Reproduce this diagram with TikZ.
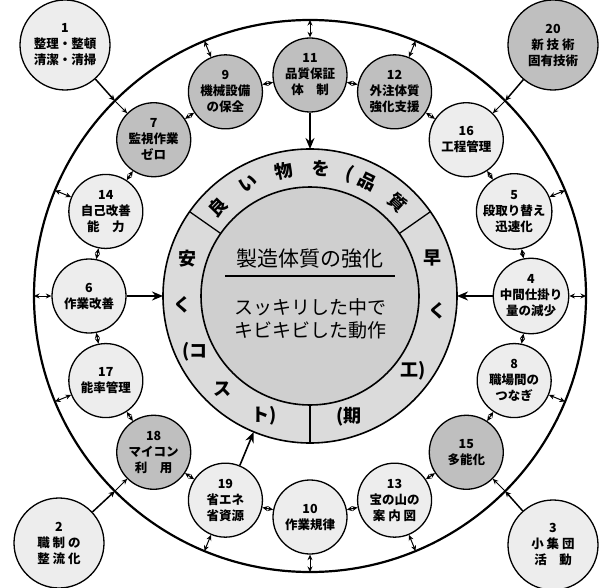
\documentclass[tikz,border=0pt]{standalone}
\usepackage{fontspec}
\newfontfamily\jp{Noto Sans CJK JP}
\usetikzlibrary{arrows.meta,calc}
\begin{document}
\begin{tikzpicture}[x=1pt,y=1pt,
 nd/.style={circle,draw,line width=1.3pt,minimum size=74pt,inner sep=0pt,align=center,font=\jp\bfseries\fontsize{12.5}{16}\selectfont},
 dk/.style={nd,fill=gray!50},
 lt/.style={nd,fill=gray!14},
 ond/.style={minimum size=90pt},
 sa/.style={line width=1pt,{Stealth[length=5.5pt,width=5pt]}-{Stealth[length=5.5pt,width=5pt]}},
 feed/.style={line width=1.5pt,-{Stealth[length=6pt,width=5.5pt]}},
 ba/.style={line width=1.6pt,-{Stealth[length=11pt,width=9pt]}},
 rt/.style={font=\jp\bfseries\fontsize{18}{18}\selectfont,inner sep=0pt},
]
\useasboundingbox (0,0) rectangle (599,-588);
\coordinate (C) at (310,-296);
% outer circle
\draw[line width=2.2pt] (C) circle[radius=276pt];
% ring and centre
\fill[gray!28] (C) circle[radius=147pt];
\draw[line width=1.6pt] (C) circle[radius=147pt];
\filldraw[fill=gray!38,line width=1.6pt] (C) circle[radius=109pt];
\foreach \a in {35,145,270}
  \draw[line width=1.3pt] ($(C)+(\a:109pt)$) -- ($(C)+(\a:147pt)$);
% ring texts
\node[rt,rotate=46]  (q1) at ($(C)+(136:128pt)$) {良};
\node[rt,rotate=29]  (q2) at ($(C)+(119:128pt)$) {い};
\node[rt,rotate=12]  (q3) at ($(C)+(102:128pt)$) {物};
\node[rt,rotate=-5]  (q4) at ($(C)+(85:128pt)$) {を};
\node[rt,rotate=-18] (q5a) at ($(C)+(72:128pt)$) {(};
\node[rt,rotate=-26] (q5) at ($(C)+(63.5:128pt)$) {品};
\node[rt,rotate=-43] (q6) at ($(C)+(47:128pt)$) {質};
\node[rt] (l1) at ($(C)+(163:128pt)$) {安};
\node[rt] (l2) at ($(C)+(184:128pt)$) {く};
\node[rt] (l3) at ($(C)+(206:128pt)$) {(コ};
\node[rt] (l4) at ($(C)+(227:128pt)$) {ス};
\node[rt] (l5) at ($(C)+(249:128pt)$) {ト)};
\node[rt] (r1) at ($(C)+(17.5:128pt)$) {早};
\node[rt] (r2) at ($(C)+(-6.5:128pt)$) {く};
\node[rt] (r3) at ($(C)+(-36:128pt)$) {工)};
\node[rt] (r4) at ($(C)+(-72:127pt)$) {(期};
% centre texts
\node[font=\jp\fontsize{21}{21}\selectfont,inner sep=0pt] (t1) at (310,-259) {製造体質の強化};
\draw[line width=1.5pt] ($(C)+(-85,20)$) -- ($(C)+(85,20)$);
\node[font=\jp\fontsize{19}{23}\selectfont,align=center,inner sep=0pt] (t2) at (310,-319) {スッキリした中で\\キビキビした動作};
% inner ring of nodes
\node[lt] (n4)  at ($(C)+(0:221pt)$)     {4\\中間仕掛り\\量の減少};
\node[lt] (n5)  at ($(C)+(22.5:221pt)$)  {5\\段取り替え\\迅速化};
\node[lt] (n16) at ($(C)+(45:221pt)$)    {16\\工程管理};
\node[dk] (n12) at ($(C)+(67.5:221pt)$)  {12\\外注体質\\強化支援};
\node[dk] (n11) at ($(C)+(90:221pt)$)    {11\\品質保証\\体　制};
\node[dk] (n9)  at ($(C)+(112.5:221pt)$) {9\\機械設備\\の保全};
\node[dk] (n7)  at ($(C)+(135:221pt)$)   {7\\監視作業\\ゼロ};
\node[lt] (n14) at ($(C)+(157.5:221pt)$) {14\\自己改善\\能　力};
\node[lt] (n6)  at ($(C)+(180:221pt)$)   {6\\作業改善};
\node[lt] (n17) at ($(C)+(202.5:221pt)$) {17\\能率管理};
\node[dk] (n18) at ($(C)+(225:221pt)$)   {18\\マイコン\\利　用};
\node[lt] (n19) at ($(C)+(247.5:221pt)$) {19\\省エネ\\省資源};
\node[lt] (n10) at ($(C)+(270:221pt)$)   {10\\作業規律};
\node[lt] (n13) at ($(C)+(292.5:221pt)$) {13\\宝の山の\\案 内 図};
\node[dk] (n15) at ($(C)+(315:221pt)$)   {15\\多能化};
\node[lt] (n8)  at ($(C)+(337.5:221pt)$) {8\\職場間の\\つなぎ};
% outer corner nodes
\node[lt,ond] (n1)  at (65,-45)   {1\\整理・整頓\\清潔・清掃};
\node[dk,ond] (n20) at (553,-45)  {20\\新 技 術\\固有技術};
\node[lt,ond] (n2)  at (59,-543)  {2\\職 制 の\\整 流 化};
\node[lt,ond] (n3)  at (553,-545) {3\\小 集 団\\活　動};
% points on the outer circle
\foreach \n/\a in {4/0,5/22.5,16/45,12/67.5,11/90,9/112.5,7/135,14/157.5,6/180,17/202.5,18/225,19/247.5,10/270,13/292.5,15/315,8/337.5}
  \coordinate (o\n) at ($(C)+(\a:276pt)$);
% points on the ring
\coordinate (k11) at ($(C)+(90:147pt)$);
\coordinate (k6)  at ($(C)+(180:147pt)$);
\coordinate (k4)  at ($(C)+(0:147pt)$);
\coordinate (k19) at ($(C)+(247.5:147pt)$);
% neighbour links
\foreach \p/\q in {4/5,5/16,16/12,12/11,11/9,9/7,7/14,14/6,6/17,17/18,18/19,19/10,10/13,13/15,15/8,8/4}
  \draw[sa] (n\p) -- (n\q);
% links to outer circle
\foreach \n in {4,5,12,11,9,14,6,17,19,10,13,8}
  \draw[sa] (n\n) -- (o\n);
\foreach \n in {16,7,18,15}
  \draw[line width=1pt,-{Stealth[length=5.5pt,width=5pt]}] (o\n) -- (n\n);
% feeds from corner nodes
\draw[feed] (n1) -- (o7);
\draw[feed] (n20) -- (o16);
\draw[feed] (n2) -- (o18);
\draw[feed] (n3) -- (o15);
% arrows to the centre
\draw[ba] (n11) -- (k11);
\draw[ba] (n6) -- (k6);
\draw[ba] (n4) -- (k4);
\draw[ba] (n19) -- (k19);
\end{tikzpicture}
\end{document}
